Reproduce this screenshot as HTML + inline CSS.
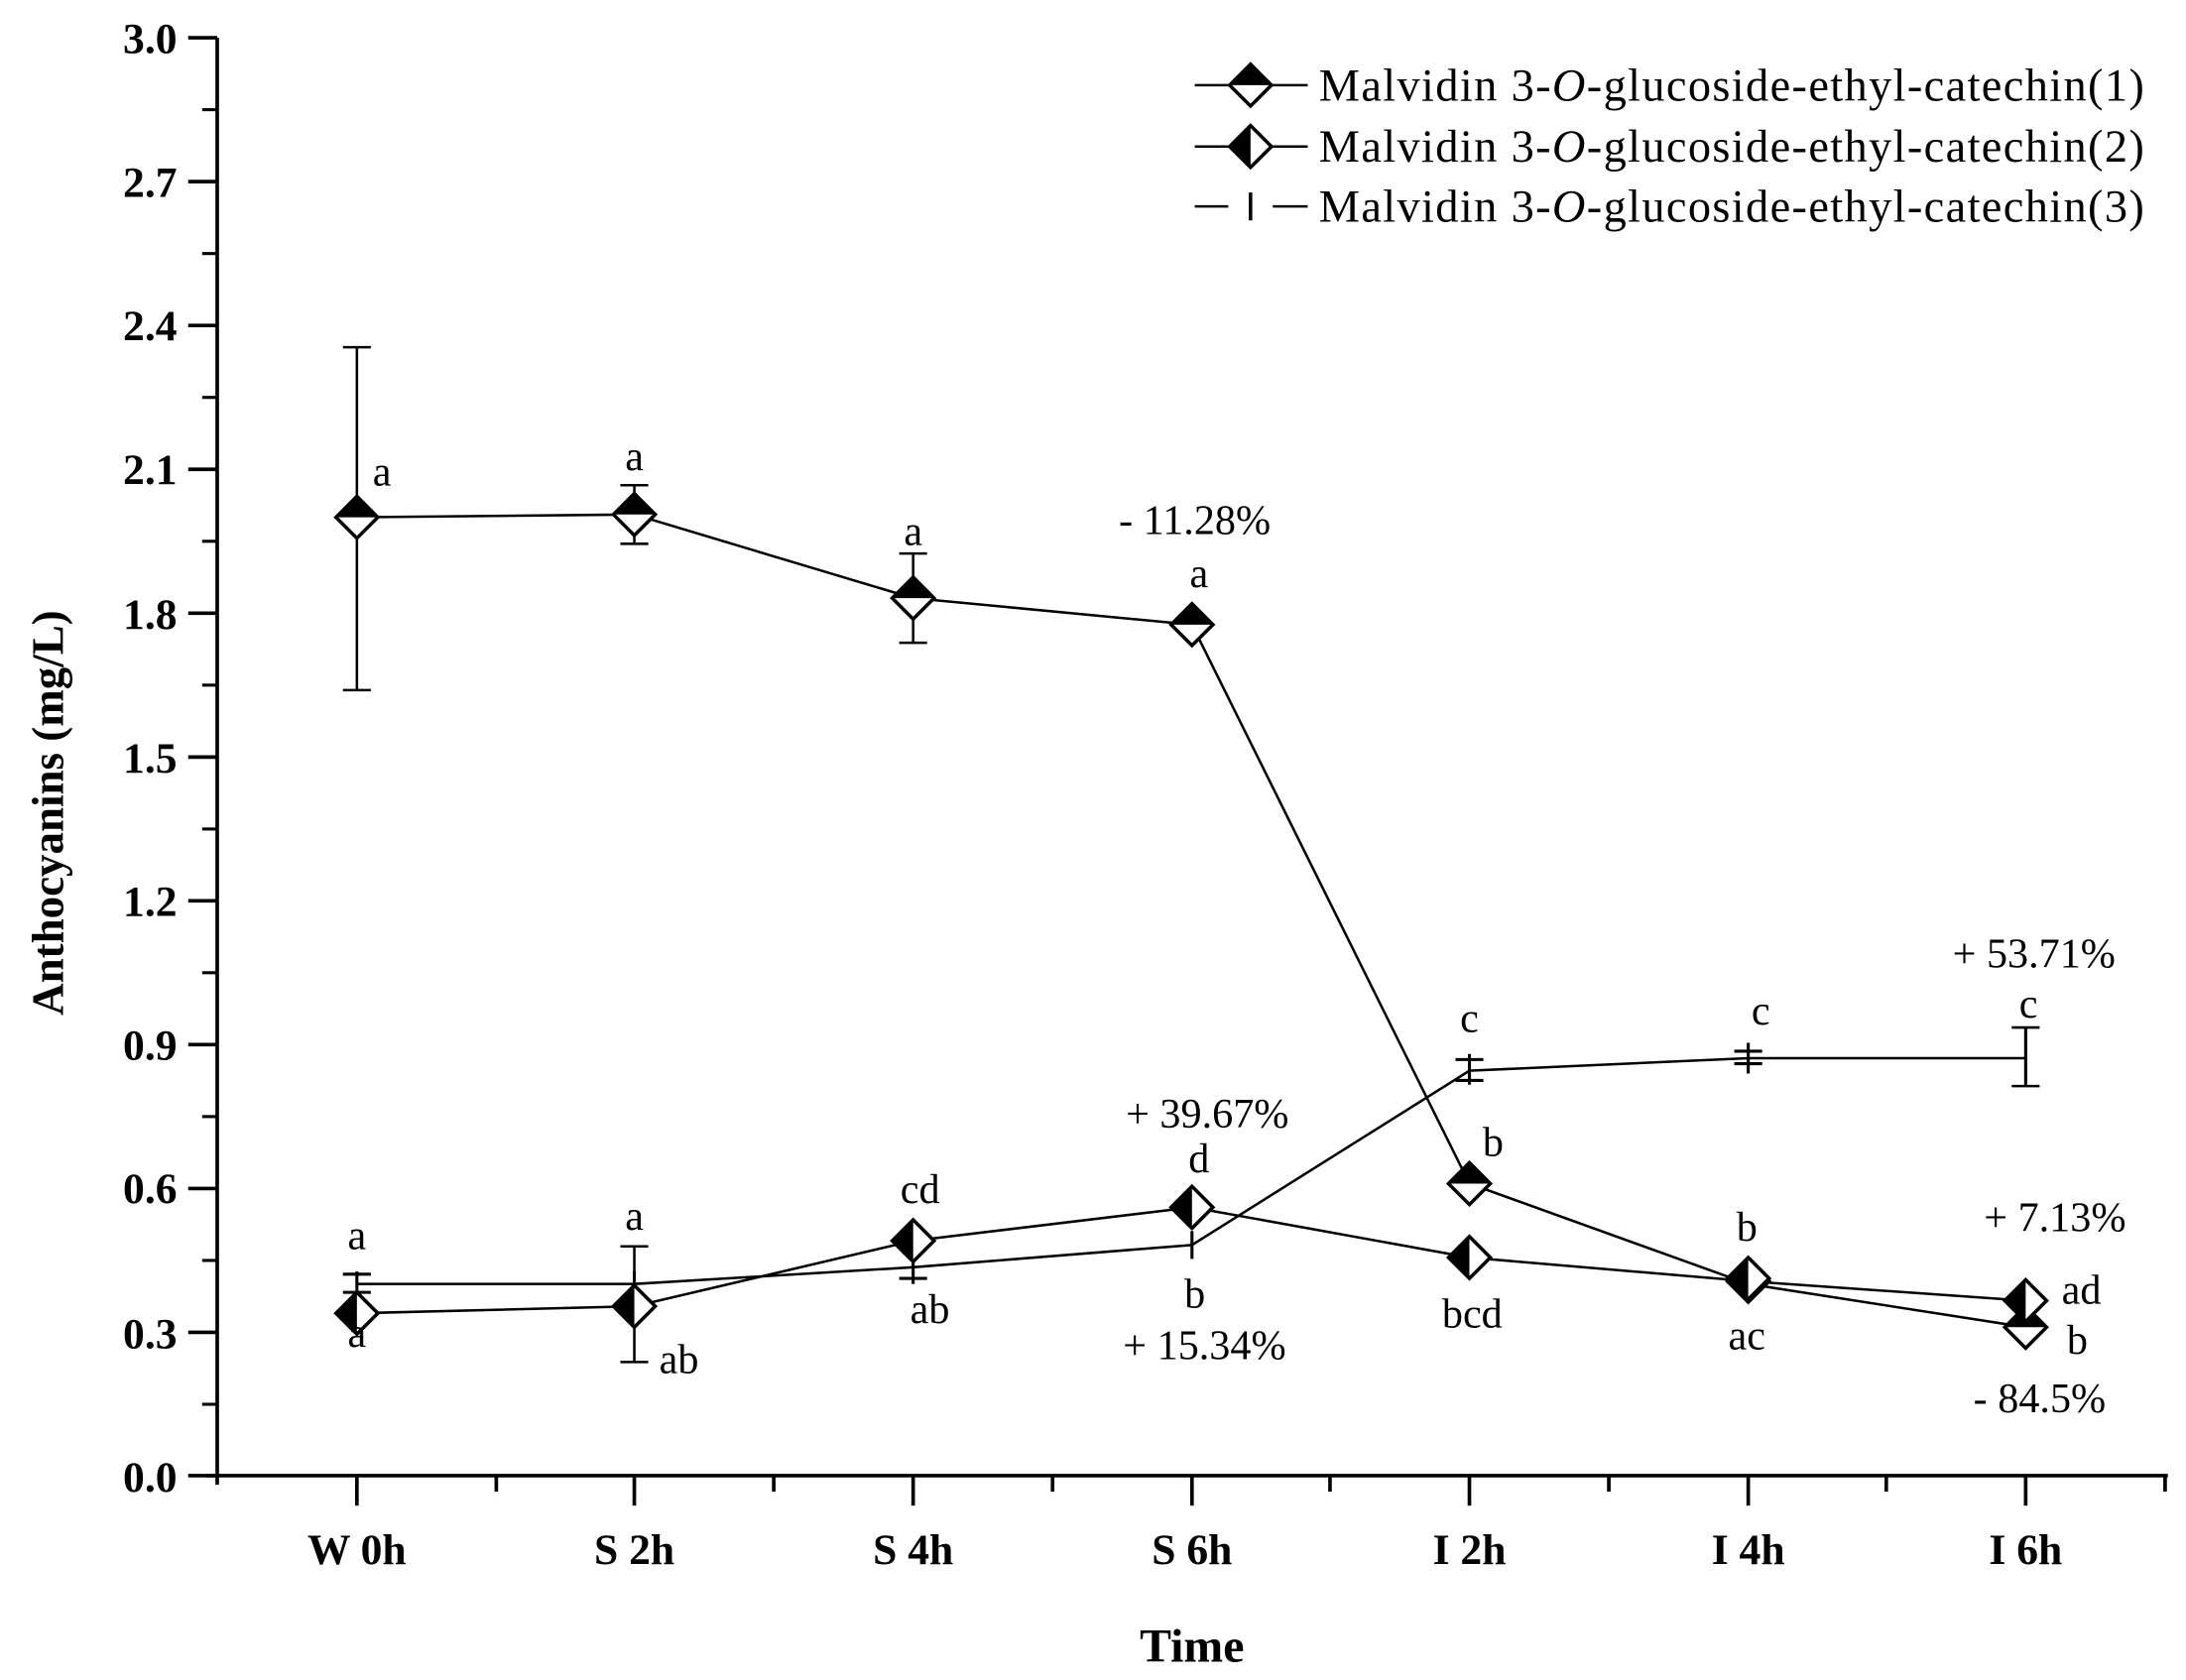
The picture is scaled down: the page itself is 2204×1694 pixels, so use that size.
<!DOCTYPE html>
<html><head><style>html,body{margin:0;padding:0;background:#fff}svg{display:block}text{font-family:"Liberation Serif",serif}</style></head>
<body>
<svg width="2204" height="1694" viewBox="0 0 1568 1205" xmlns="http://www.w3.org/2000/svg" style="font-family:'Liberation Serif',serif">
<defs>
<g id="d1"><path d="M0,-15 L15,0 L0,15 L-15,0 Z" fill="#fff" stroke="#000" stroke-width="2.5"/><path d="M0,-15 L15,0 L-15,0 Z" fill="#000"/></g>
<g id="d2"><path d="M0,-15 L15,0 L0,15 L-15,0 Z" fill="#fff" stroke="#000" stroke-width="2.5"/><path d="M0,-15 L0,15 L-15,0 Z" fill="#000"/></g>
</defs>
<g stroke="#000" stroke-width="2.6" fill="none">
<line x1="155.8" y1="27" x2="155.8" y2="1065"/>
<line x1="148" y1="1058.5" x2="1555" y2="1058.5"/>
<line x1="135" y1="27" x2="155.8" y2="27"/>
<line x1="135" y1="130.2" x2="155.8" y2="130.2"/>
<line x1="135" y1="233.4" x2="155.8" y2="233.4"/>
<line x1="135" y1="336.6" x2="155.8" y2="336.6"/>
<line x1="135" y1="439.8" x2="155.8" y2="439.8"/>
<line x1="135" y1="543" x2="155.8" y2="543"/>
<line x1="135" y1="646.1" x2="155.8" y2="646.1"/>
<line x1="135" y1="749.3" x2="155.8" y2="749.3"/>
<line x1="135" y1="852.5" x2="155.8" y2="852.5"/>
<line x1="135" y1="955.7" x2="155.8" y2="955.7"/>
<line x1="135" y1="1058.5" x2="155.8" y2="1058.5"/>
<g stroke-width="2.2">
<line x1="145" y1="78.6" x2="155.8" y2="78.6"/><line x1="145" y1="181.8" x2="155.8" y2="181.8"/>
<line x1="145" y1="285" x2="155.8" y2="285"/><line x1="145" y1="388.2" x2="155.8" y2="388.2"/>
<line x1="145" y1="491.4" x2="155.8" y2="491.4"/><line x1="145" y1="594.6" x2="155.8" y2="594.6"/>
<line x1="145" y1="697.7" x2="155.8" y2="697.7"/><line x1="145" y1="800.9" x2="155.8" y2="800.9"/>
<line x1="145" y1="904.1" x2="155.8" y2="904.1"/><line x1="145" y1="1007.3" x2="155.8" y2="1007.3"/>
</g>
<g>
<line x1="256" y1="1058.5" x2="256" y2="1080"/><line x1="455" y1="1058.5" x2="455" y2="1080"/>
<line x1="655" y1="1058.5" x2="655" y2="1080"/><line x1="855" y1="1058.5" x2="855" y2="1080"/>
<line x1="1054" y1="1058.5" x2="1054" y2="1080"/><line x1="1254" y1="1058.5" x2="1254" y2="1080"/>
<line x1="1453" y1="1058.5" x2="1453" y2="1080"/>
<line x1="356" y1="1058.5" x2="356" y2="1070"/><line x1="555" y1="1058.5" x2="555" y2="1070"/>
<line x1="755" y1="1058.5" x2="755" y2="1070"/><line x1="954" y1="1058.5" x2="954" y2="1070"/>
<line x1="1154" y1="1058.5" x2="1154" y2="1070"/><line x1="1353" y1="1058.5" x2="1353" y2="1070"/>
<line x1="1553" y1="1058.5" x2="1553" y2="1070"/>
</g>
</g>
<g font-weight="bold" font-size="31" text-anchor="end">
<text x="127" y="38">3.0</text><text x="127" y="141">2.7</text><text x="127" y="244">2.4</text>
<text x="127" y="347">2.1</text><text x="127" y="451">1.8</text><text x="127" y="554">1.5</text>
<text x="127" y="657">1.2</text><text x="127" y="760">0.9</text><text x="127" y="863">0.6</text>
<text x="127" y="967">0.3</text><text x="127" y="1070">0.0</text>
</g>
<g font-weight="bold" font-size="31" text-anchor="middle">
<text x="256" y="1122">W 0h</text><text x="455" y="1122">S 2h</text><text x="655" y="1122">S 4h</text>
<text x="855" y="1122">S 6h</text><text x="1054" y="1122">I 2h</text><text x="1254" y="1122">I 4h</text>
<text x="1453" y="1122">I 6h</text>
<text x="855" y="1192" font-size="34">Time</text>
<text transform="translate(45,583) rotate(-90)" font-size="32">Anthocyanins  (mg/L)</text>
</g>
<g stroke="#000" stroke-width="1.8" fill="none">
<polyline points="256,371 455,369 655,429 855,448 1054,849 1254,921 1453,952"/>
<polyline points="256,942 455,937 655,890 855,866 1054,902 1254,919 1453,933"/>
<polyline points="256,921 455,921 655,909 855,893 1054,768 1254,759 1453,759"/>
<path d="M256,249V495M246,249h20M246,495h20"/>
<path d="M455,348V390M445,348h20M445,390h20"/>
<path d="M655,397V461M645,397h20M645,461h20"/>
<path d="M455,894V977M445,894h20M445,977h20"/>
<path d="M1453,737V779M1443,737h20M1443,779h20"/>
</g>
<g stroke="#000" stroke-width="2.2">
<line x1="256" y1="912" x2="256" y2="930"/><line x1="246" y1="914" x2="266" y2="914"/><line x1="246" y1="927" x2="266" y2="927"/>
<line x1="455" y1="912" x2="455" y2="930"/>
<line x1="655" y1="897" x2="655" y2="921"/><line x1="645" y1="917" x2="665" y2="917"/>
<line x1="855" y1="883" x2="855" y2="903"/>
<line x1="1054" y1="756" x2="1054" y2="778"/><line x1="1044" y1="760" x2="1064" y2="760"/><line x1="1044" y1="775" x2="1064" y2="775"/>
<line x1="1254" y1="748" x2="1254" y2="770"/><line x1="1244" y1="754" x2="1264" y2="754"/><line x1="1244" y1="763" x2="1264" y2="763"/>
<line x1="1453" y1="737" x2="1453" y2="779"/>
</g>
<use href="#d1" x="256" y="371"/><use href="#d1" x="455" y="369"/><use href="#d1" x="655" y="429"/>
<use href="#d1" x="855" y="448"/><use href="#d1" x="1054" y="849"/><use href="#d1" x="1254" y="919"/><use href="#d1" x="1453" y="952"/>
<use href="#d2" x="256" y="942"/><use href="#d2" x="455" y="937"/><use href="#d2" x="655" y="890"/>
<use href="#d2" x="855" y="866"/><use href="#d2" x="1054" y="902"/><use href="#d2" x="1254" y="917"/><use href="#d2" x="1453" y="933"/>
<g font-size="30" text-anchor="middle">
<text x="274" y="348">a</text><text x="455" y="337">a</text><text x="655" y="391">a</text><text x="860" y="421">a</text>
<text x="857" y="383">- 11.28%</text>
<text x="256" y="896">a</text><text x="256" y="966">a</text>
<text x="455" y="882">a</text><text x="487" y="985">ab</text>
<text x="660" y="863">cd</text><text x="667" y="949">ab</text>
<text x="860" y="841">d</text><text x="866" y="809">+ 39.67%</text>
<text x="857" y="938">b</text><text x="864" y="975">+ 15.34%</text>
<text x="1054" y="740">c</text><text x="1071" y="829">b</text><text x="1056" y="952">bcd</text>
<text x="1263" y="735">c</text><text x="1253" y="890">b</text><text x="1253" y="968">ac</text>
<text x="1455" y="730">c</text><text x="1459" y="694">+ 53.71%</text>
<text x="1474" y="883">+ 7.13%</text><text x="1493" y="935">ad</text><text x="1490" y="971">b</text>
<text x="1463" y="1013">- 84.5%</text>
</g>
<g stroke="#000" stroke-width="1.8">
<line x1="857" y1="61" x2="938" y2="61"/><line x1="857" y1="105" x2="938" y2="105"/>
<line x1="857" y1="148" x2="881" y2="148"/><line x1="913" y1="148" x2="938" y2="148"/>
<line x1="897" y1="138" x2="897" y2="158" stroke-width="2.5"/>
</g>
<use href="#d1" x="897" y="61"/><use href="#d2" x="897" y="105"/>
<g font-size="33">
<text x="946" y="72" textLength="592">Malvidin 3-<tspan font-style="italic">O</tspan>-glucoside-ethyl-catechin(1)</text>
<text x="946" y="116" textLength="592">Malvidin 3-<tspan font-style="italic">O</tspan>-glucoside-ethyl-catechin(2)</text>
<text x="946" y="159" textLength="592">Malvidin 3-<tspan font-style="italic">O</tspan>-glucoside-ethyl-catechin(3)</text>
</g>
</svg>
</body></html>
